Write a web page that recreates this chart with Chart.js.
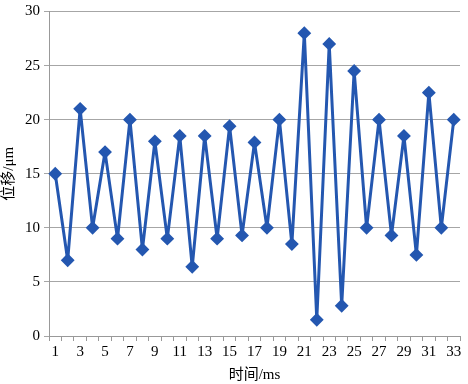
<!DOCTYPE html>
<html><head><meta charset="utf-8">
<script src="https://cdn.jsdelivr.net/npm/chart.js@4/dist/chart.umd.min.js"></script>
<style>html,body{margin:0;padding:0;background:#fff}#w{width:468px;height:384px}</style>
</head><body><div id="w"><canvas id="c"></canvas></div>
<script>
const categories = ["1","2","3","4","5","6","7","8","9","10","11","12","13","14","15","16","17","18","19","20","21","22","23","24","25","26","27","28","29","30","31","32","33"];
const displacement = [15,7,21,10,17,9,20,8,18,9,18.5,6.4,18.5,9,19.4,9.3,17.9,10,20,8.5,28,1.5,27,2.8,24.5,10,20,9.3,18.5,7.5,22.5,10,20];
const xTickLabels = ["1","3","5","7","9","11","13","15","17","19","21","23","25","27","29","31","33"];
const yTicks = [0,5,10,15,20,25,30];
const xTitle = "时间/ms";
const yTitle = "位移/μm";

const FONT = "'Liberation Serif','Times New Roman','Noto Sans CJK SC',serif";
const col = "#2457B0";
new Chart(document.getElementById('c'), {
  type: 'line',
  data: { labels: categories, datasets: [{
    data: displacement, borderColor: col, backgroundColor: col, borderWidth: 3,
    borderJoinStyle: 'round', borderCapStyle: 'round',
    pointStyle: 'rectRot', pointRadius: 4.8, pointHoverRadius: 4.8, tension: 0, fill: false
  }]},
  options: {
    responsive: true, maintainAspectRatio: false, animation: false,
    layout: { padding: { left: 0, right: 8, top: 1, bottom: 0 } },
    plugins: { legend: { display: false }, tooltip: { enabled: false } },
    scales: {
      x: {
        offset: true,
        grid: { offset: true, drawOnChartArea: false, drawTicks: true, tickLength: 5, color: '#999' },
        border: { color: '#999', width: 1 },
        ticks: { autoSkip: false, maxRotation: 0, color: '#000', padding: 2,
          font: { family: FONT, size: 15 },
          callback: (v, i) => xTickLabels.includes(categories[i]) ? categories[i] : '' },
        title: { display: true, text: xTitle, color: '#000', font: { family: FONT, size: 15 }, padding: { top: 1, bottom: 0 } },
        afterFit: s => { s.height = 48; }
      },
      y: {
        min: 0, max: 30,
        afterBuildTicks: s => { s.ticks = yTicks.map(v => ({ value: v })); },
        grid: { color: '#a6a6a6', lineWidth: 1, drawTicks: true, tickLength: 5 },
        border: { color: '#999', width: 1 },
        ticks: { color: '#000', padding: 4, font: { family: FONT, size: 15, lineHeight: 1 } },
        title: { display: true, text: yTitle, color: '#000', font: { family: FONT, size: 15 }, padding: { top: 0, bottom: 2 } },
        afterFit: s => { s.width = 49; }
      }
    }
  }
});
</script></body></html>
